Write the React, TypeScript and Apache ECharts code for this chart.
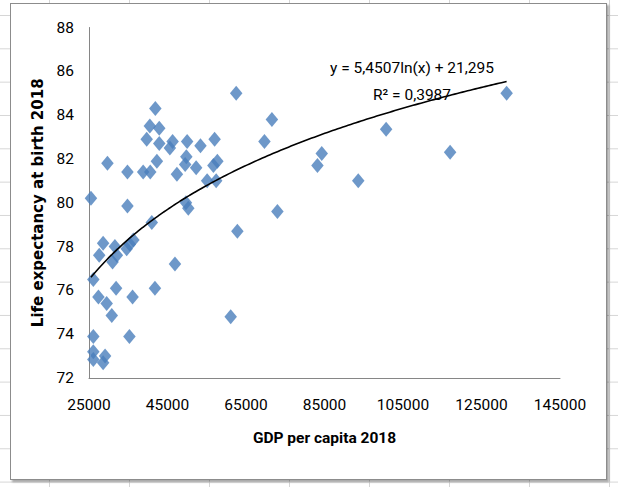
import React, { useEffect, useRef } from "react";
import * as echarts from "echarts";

// GDP per capita 2018 (x) and life expectancy at birth 2018 (y)
const gdpPerCapita = [
  62500, 41900, 40500, 42900, 39700, 42900, 46300, 45600, 50000, 53400,
  57000, 29700, 34800, 38800, 40600, 42300, 49800, 49500, 52300, 47400,
  57700, 56700, 55100, 57400, 25500, 34800, 49700, 50300, 41000, 62800,
  73000, 69700, 71600, 84300, 83200, 93600, 100700, 117000, 131400, 28600,
  31600, 36300, 35400, 34600, 27600, 32100, 31000, 46900, 26100, 31900,
  41800, 36100, 27400, 29500, 30800, 61100, 26100, 35300, 26100, 26100,
  29100, 28600,
];
const lifeExpectancy = [
  85.0, 84.3, 83.5, 83.4, 82.9, 82.7, 82.8, 82.5, 82.8, 82.6,
  82.9, 81.8, 81.4, 81.4, 81.4, 81.9, 82.1, 81.75, 81.6, 81.3,
  81.9, 81.7, 81.0, 81.0, 80.2, 79.85, 80.0, 79.75, 79.1, 78.7,
  79.6, 82.8, 83.8, 82.25, 81.7, 81.0, 83.35, 82.3, 85.0, 78.15,
  78.0, 78.3, 78.1, 77.9, 77.6, 77.6, 77.3, 77.2, 76.5, 76.1,
  76.1, 75.7, 75.7, 75.4, 74.85, 74.8, 73.9, 73.9, 73.2, 72.85,
  73.0, 72.7,
];

// Axis ticks
const xTickLabels = [25000, 45000, 65000, 85000, 105000, 125000, 145000];
const yTickLabels = [72, 74, 76, 78, 80, 82, 84, 86, 88];

// Logarithmic trendline shown on the chart: y = a ln(x) + b
const trendA = 5.4507;
const trendB = 21.295;
const trendEquation = "y = 5,4507ln(x) + 21,295";
const trendR2 = "R² = 0,3987";

export default function App() {
  const ref = useRef<HTMLDivElement>(null);

  useEffect(() => {
    if (!ref.current) return;
    const chart = echarts.init(ref.current, undefined, { renderer: "svg" });

    const points = gdpPerCapita.map((x, i) => [x, lifeExpectancy[i]]);
    const xMin = Math.min(...gdpPerCapita);
    const xMax = Math.max(...gdpPerCapita);
    const steps = 80;
    const trend: number[][] = [];
    for (let i = 0; i <= steps; i++) {
      const x = xMin + ((xMax - xMin) * i) / steps;
      trend.push([x, trendA * Math.log(x) + trendB]);
    }

    const labelFont = "Roboto, sans-serif";

    chart.setOption({
      animation: false,
      backgroundColor: "transparent",
      grid: { left: 89, right: 58, top: 27.5, bottom: 109 },
      xAxis: {
        type: "value",
        min: xTickLabels[0],
        max: xTickLabels[xTickLabels.length - 1],
        interval: 5000,
        name: "GDP per capita 2018",
        nameLocation: "middle",
        nameGap: 52,
        nameTextStyle: {
          fontFamily: labelFont,
          fontWeight: "bold",
          fontSize: 15.5,
          color: "#000",
        },
        axisLine: { show: true, lineStyle: { color: "#868686", width: 1 } },
        axisTick: { show: false },
        splitLine: { show: false },
        axisLabel: {
          margin: 19,
          fontFamily: labelFont,
          fontSize: 15.5,
          color: "#000",
          formatter: (v: number) => (xTickLabels.includes(v) ? String(v) : ""),
        },
      },
      yAxis: {
        type: "value",
        min: yTickLabels[0],
        max: yTickLabels[yTickLabels.length - 1],
        interval: 2,
        name: "Life expectancy at birth 2018",
        nameLocation: "middle",
        nameGap: 38,
        nameRotate: 90,
        nameTextStyle: {
          fontFamily: "'DejaVu Sans', sans-serif",
          fontWeight: "bold",
          fontSize: 15,
          color: "#000",
        },
        axisLine: { show: true, lineStyle: { color: "#868686", width: 1 } },
        axisTick: { show: false },
        splitLine: { show: false },
        axisLabel: {
          margin: 15,
          fontFamily: labelFont,
          fontSize: 15.5,
          color: "#000",
        },
      },
      series: [
        {
          type: "scatter",
          data: points,
          symbol: "diamond",
          symbolSize: [12.5, 15],
          itemStyle: { color: "#4a7ebb" },
          z: 3,
        },
        {
          type: "line",
          data: trend,
          showSymbol: false,
          smooth: true,
          lineStyle: { color: "#000", width: 1.6 },
          z: 4,
        },
      ],
      graphic: [
        {
          type: "text",
          x: 412,
          y: 68,
          z: 10,
          style: {
            text: trendEquation,
            fontFamily: labelFont,
            fontSize: 15.5,
            fill: "#000",
            align: "center",
            verticalAlign: "middle",
          },
        },
        {
          type: "text",
          x: 412,
          y: 95,
          z: 10,
          style: {
            text: trendR2,
            fontFamily: labelFont,
            fontSize: 15.5,
            fill: "#000",
            align: "center",
            verticalAlign: "middle",
          },
        },
      ],
    });

    return () => chart.dispose();
  }, []);

  return (
    <div
      style={{
        position: "fixed",
        left: 0,
        top: 0,
        width: 618,
        height: 487,
        overflow: "hidden",
        backgroundColor: "#ffffff",
        backgroundImage:
          "linear-gradient(to right, #d6d6d6 1px, transparent 1px), linear-gradient(to bottom, #d6d6d6 1px, transparent 1px)",
        backgroundSize: "80px 100%, 100% 33.33px",
        backgroundPosition: "49px 0, 0 15px",
      }}
    >
      <div
        style={{
          position: "absolute",
          left: 10,
          top: 3,
          width: 595,
          height: 475,
          background: "#fff",
          border: "1px solid #8c8c8c",
          boxShadow: "2px 2px 2px rgba(0,0,0,0.35)",
        }}
      />
      <div
        ref={ref}
        style={{ position: "absolute", left: 0, top: 0, width: 618, height: 487 }}
      />
    </div>
  );
}
